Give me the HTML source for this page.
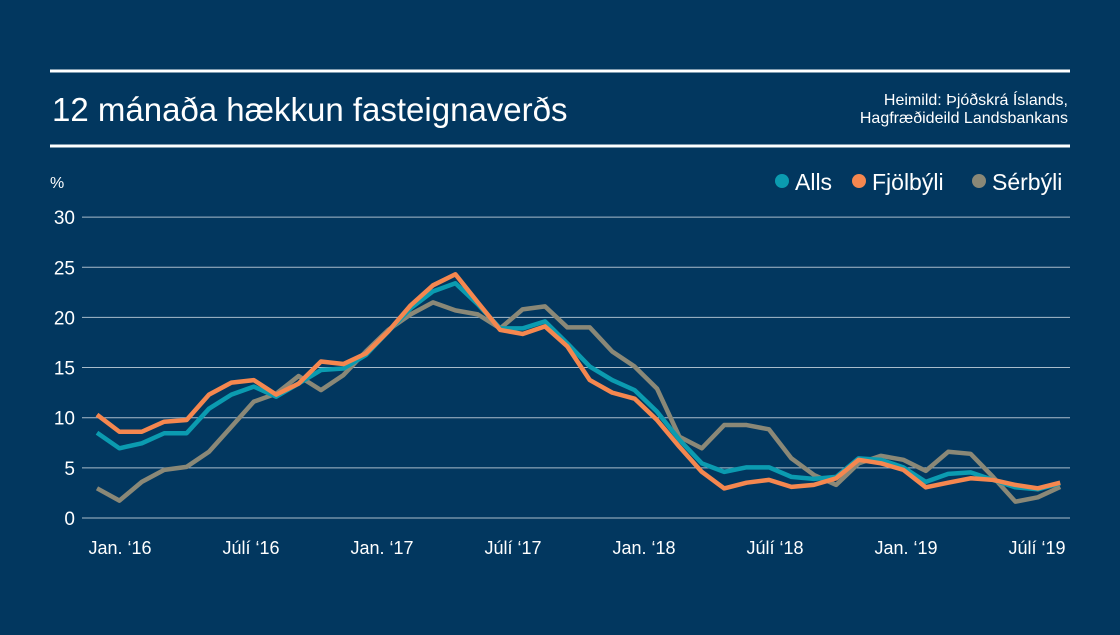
<!DOCTYPE html>
<html><head><meta charset="utf-8"><style>
body{margin:0;background:#02375f;}
svg text{font-family:"Liberation Sans",sans-serif;fill:#fff;}
</style></head><body>
<svg id="c" width="1120" height="630" viewBox="0 0 1120 630">
<rect width="1120" height="630" fill="#02375f"/>
<rect x="50" y="69.5" width="1020" height="3" fill="#fff"/>
<rect x="50" y="144.5" width="1020" height="3" fill="#fff"/>
<text x="52" y="121" font-size="33">12 mánaða hækkun fasteignaverðs</text>
<text x="1068" y="105" font-size="16" text-anchor="end">Heimild: Þjóðskrá Íslands,</text>
<text x="1068" y="123" font-size="16" text-anchor="end">Hagfræðideild Landsbankans</text>
<text x="50" y="188" font-size="16">%</text>
<g id="grid"></g><g id="lines"></g><g id="xl"></g>
<g>
<circle cx="782" cy="181" r="7" fill="#0b9bb0"/>
<text x="795" y="190" font-size="23">Alls</text>
<circle cx="859" cy="181" r="7" fill="#f5874f"/>
<text x="872" y="190" font-size="23">Fjölbýli</text>
<circle cx="979" cy="181" r="7" fill="#8a8877"/>
<text x="992" y="190" font-size="23">Sérbýli</text>
</g>
</svg>
<script>
const yTicks=[0,5,10,15,20,25,30];
const xLabels=["Jan. ‘16","Júlí ‘16","Jan. ‘17","Júlí ‘17","Jan. ‘18","Júlí ‘18","Jan. ‘19","Júlí ‘19"];
const alls=[8.5,6.95,7.45,8.45,8.45,10.9,12.3,13.1,12.1,13.4,14.75,14.9,16.25,18.6,20.9,22.6,23.4,21.3,18.9,18.9,19.6,17.4,15.1,13.75,12.75,10.6,7.8,5.45,4.6,5.05,5.05,4.1,3.9,4.1,5.95,5.8,5.05,3.6,4.4,4.55,3.8,3.06,2.86,3.46];
const fjolbyli=[10.3,8.6,8.6,9.6,9.77,12.3,13.5,13.75,12.3,13.4,15.6,15.35,16.4,18.6,21.2,23.2,24.3,21.5,18.75,18.35,19.1,17.1,13.75,12.5,11.9,9.77,7.1,4.6,2.95,3.52,3.8,3.1,3.3,3.96,5.8,5.45,4.8,3.06,3.52,3.96,3.8,3.3,2.96,3.52];
const serbyli=[2.96,1.73,3.6,4.8,5.1,6.6,9.1,11.6,12.4,14.15,12.75,14.25,16.6,18.75,20.3,21.5,20.7,20.3,18.9,20.8,21.1,19.0,19.0,16.6,15.1,12.9,8.1,6.95,9.27,9.27,8.84,5.95,4.3,3.3,5.45,6.2,5.8,4.7,6.6,6.4,4.1,1.63,2.06,3.1];
const NS="http://www.w3.org/2000/svg";
const x0=97,dx=22.4;
function xs(i){return x0+i*dx;}
function ys(v){return 518-v*10.03;}
const grid=document.getElementById('grid');
yTicks.forEach(t=>{
 const l=document.createElementNS(NS,'line');
 l.setAttribute('x1',82);l.setAttribute('x2',1070);l.setAttribute('y1',ys(t));l.setAttribute('y2',ys(t));
 l.setAttribute('stroke','#a9bccb');l.setAttribute('stroke-width','1');
 
 
 grid.appendChild(l);
 const tx=document.createElementNS(NS,'text');
 tx.setAttribute('x',75);tx.setAttribute('y',ys(t)+7);tx.setAttribute('text-anchor','end');tx.setAttribute('font-size','19');
 tx.textContent=t;
 
 
 grid.appendChild(tx);
});
const xl=document.getElementById('xl');
xLabels.forEach((s,i)=>{
 const tx=document.createElementNS(NS,'text');
 tx.setAttribute('x',120+i*131);tx.setAttribute('y',554);tx.setAttribute('text-anchor','middle');tx.setAttribute('font-size','18');
 tx.textContent=s;
 
 
 xl.appendChild(tx);
});
const lines=document.getElementById('lines');
[[serbyli,'#8a8877','line-serbyli'],[alls,'#0b9bb0','line-alls'],[fjolbyli,'#f5874f','line-fjolbyli']].forEach(([d,c,n])=>{
 const p=document.createElementNS(NS,'polyline');
 p.setAttribute('points',d.map((v,i)=>xs(i)+','+ys(v)).join(' '));
 p.setAttribute('fill','none');p.setAttribute('stroke',c);p.setAttribute('stroke-width','4.5');p.setAttribute('stroke-linejoin','round');
 
 
 lines.appendChild(p);
});
</script>
</body></html>
